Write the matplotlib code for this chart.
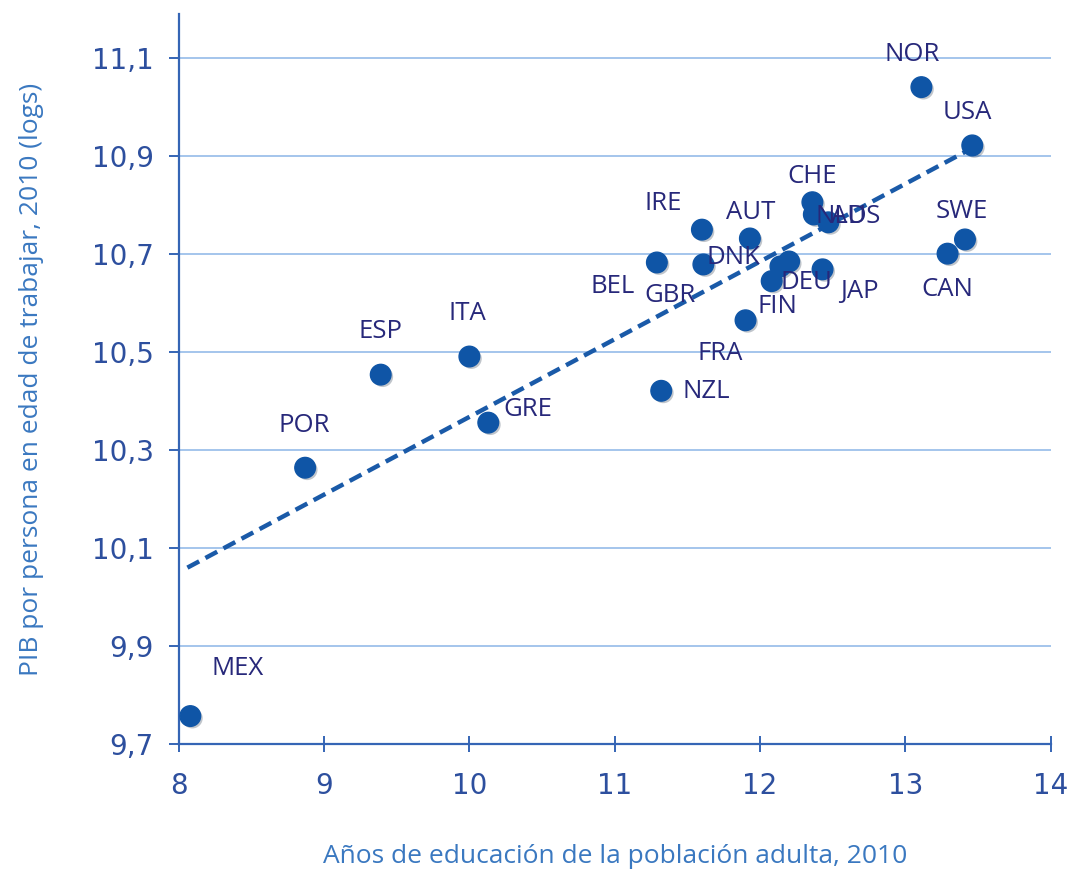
"""Education years vs GDP per working-age person, OECD countries 2010."""

import matplotlib.pyplot as plt
import matplotlib.patheffects as pe

# data
countries = ["MEX", "POR", "ESP", "ITA", "GRE", "NZL", "BEL", "IRE", "GBR", "AUT",
             "FRA", "FIN", "DEU", "DNK", "JAP", "CHE", "NLD", "AUS", "NOR", "USA",
             "SWE", "CAN"]
edu_years = [8.08, 8.87, 9.39, 10.00, 10.13, 11.32, 11.29, 11.60, 11.61, 11.93,
             11.90, 12.08, 12.20, 12.14, 12.43, 12.36, 12.37, 12.47, 13.11, 13.46,
             13.41, 13.29]
gdp_log = [9.757, 10.264, 10.454, 10.491, 10.356, 10.421, 10.683, 10.750, 10.679, 10.732,
           10.565, 10.645, 10.685, 10.675, 10.669, 10.806, 10.781, 10.765, 11.041, 10.922,
           10.730, 10.701]
# label offsets from each dot, in pixels
label_dx = [47, -1, 0, -2, 40, 45, -44, -39, -33, 1, -25, 6, 17, -47, 37, 0, 27, 27, -9, -5, -3, 0]
label_dy = [48, 42, 43, 43, 13, -1, -24, 26, -31, 26, -33, -25, -21, 9, -22, 26, -2, 6, 33, 33, 28, -36]

trend_x = [8.06, 13.45]
trend_y = [10.06, 10.915]

x_ticks = [8, 9, 10, 11, 12, 13, 14]
y_ticks = [9.7, 9.9, 10.1, 10.3, 10.5, 10.7, 10.9, 11.1]
y_tick_labels = ["9,7", "9,9", "10,1", "10,3", "10,5", "10,7", "10,9", "11,1"]

DOT = "#0f55a6"
NAVY = "#27287a"
TICK = "#2d4f9e"
AXLAB = "#3a78c0"
GRID = "#9dc0ea"
SPINE = "#3565b5"

fig = plt.figure(figsize=(10.7, 8.72), dpi=100)
ax = fig.add_axes([0.167, 0.1468, 0.815, 0.837])

ax.set_xlim(8, 14)
ax.set_ylim(9.7, 11.19)
ax.set_yticks(y_ticks)
ax.set_yticklabels(y_tick_labels)
ax.set_xticks(x_ticks)
ax.grid(axis="y", color=GRID, linewidth=1.3)
ax.set_axisbelow(True)

for side in ["top", "right"]:
    ax.spines[side].set_visible(False)
for side in ["left", "bottom"]:
    ax.spines[side].set_color(SPINE)
    ax.spines[side].set_linewidth(1.6)

ax.tick_params(axis="both", colors=SPINE, width=1.4, length=7, labelcolor=TICK,
               labelsize=20, pad=11)
ax.tick_params(axis="x", direction="inout", length=12, pad=14)
for lab in ax.get_xticklabels() + ax.get_yticklabels():
    lab.set_family("DejaVu Sans")

ax.plot(trend_x, trend_y, color="#1a5aa8", linewidth=3.2, linestyle=(0, (3, 1.6)), zorder=2)

shadow = [pe.SimplePatchShadow(offset=(1.5, -1.5), alpha=0.25), pe.Normal()]
ax.scatter(edu_years, gdp_log, s=220, color=DOT, zorder=3, clip_on=False,
           path_effects=shadow)

for name, x, y, dx, dy in zip(countries, edu_years, gdp_log, label_dx, label_dy):
    ax.annotate(name, (x, y), xytext=(dx, dy), textcoords="offset pixels",
                ha="center", va="center", fontsize=18.5, color=NAVY,
                family="Open Sans", zorder=4)

ax.set_xlabel("Años de educación de la población adulta, 2010", fontsize=19,
              color=AXLAB, family="Open Sans", labelpad=32)
ax.set_ylabel("PIB por persona en edad de trabajar, 2010 (logs)", fontsize=19,
              color=AXLAB, family="Open Sans", labelpad=34)

fig.savefig("out.png", dpi=100)
